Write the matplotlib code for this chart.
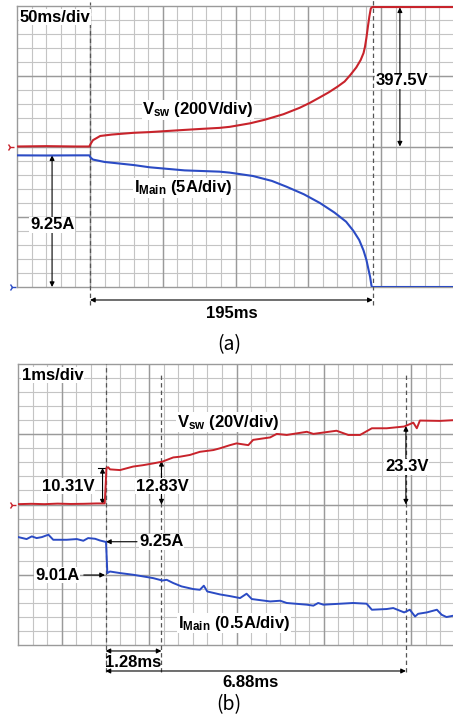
import matplotlib
matplotlib.use('Agg')
import matplotlib.pyplot as plt
import numpy as np

plt.rcParams['font.family'] = ['Liberation Sans', 'DejaVu Sans']
plt.rcParams['mathtext.fontset'] = 'custom'
plt.rcParams['mathtext.rm'] = 'Liberation Sans:bold'
plt.rcParams['mathtext.bf'] = 'Liberation Sans:bold'
plt.rcParams['mathtext.it'] = 'Liberation Sans:bold'

# ---- panel (a) data: 50ms/div, Vsw 200V/div, IMain 5A/div ----
vsw_a_t = [0, 20, 40, 49.5, 50.5, 52, 57, 65, 80, 91, 114, 126, 139, 146, 160, 170,
           183, 194, 201, 208, 214, 220, 225, 229, 233, 236, 238, 239, 240, 241,
           242, 243, 244, 260, 280, 299.5]
vsw_a_v = [0, 1, 0, 0, 8, 18, 30, 34, 39, 41, 47, 50, 53, 56, 66, 76,
           92, 110, 124, 140, 154, 170, 185, 204, 225, 246, 266, 284, 310, 341,
           370, 393, 397, 397, 397, 397]
imain_a_t = [0, 20, 40, 49.5, 50.5, 52, 60, 80, 91, 115, 139, 146, 162, 175, 185, 197,
             208, 218, 226, 231, 235, 238, 240, 241.5, 242.5, 243.5, 244, 260, 280, 299.5]
imain_a_i = [9.37, 9.36, 9.37, 9.37, 9.2, 9.07, 8.9, 8.68, 8.52, 8.3, 8.21, 8.14, 7.9, 7.55,
             7.14, 6.6, 5.98, 5.3, 4.65, 4.0, 3.35, 2.6, 1.92, 1.2, 0.73, 0.07, 0, 0, 0, 0]

# ---- panel (b) data: 1ms/div, Vsw 20V/div, IMain 0.5A/div ----
vsw_b_t = [0, 0.3, 0.6, 0.9, 1.2, 1.5, 1.8, 1.98, 2.02, 2.06, 2.10, 2.33, 2.48, 2.63, 2.86,
           3.09, 3.30, 3.55, 3.70, 3.93, 4.16, 4.47, 4.62, 4.85, 5.0, 5.27, 5.38, 5.77,
           5.92, 6.15, 6.61, 6.76, 7.29, 7.56, 7.83, 8.10, 8.44, 8.84, 9.05, 9.13, 9.2,
           9.66, 9.96]
vsw_b_v = [0.1, 0.2, 0.1, 0.25, 0.15, 0.2, 0.3, 0.3, 10.4, 10.6, 10.0, 9.8, 10.3, 10.8, 11.2,
           11.7, 12.2, 13.4, 13.6, 14.1, 15.0, 15.5, 16.0, 16.9, 17.4, 16.9, 18.4, 19.1,
           20.1, 19.8, 20.7, 20.1, 21.0, 19.8, 19.8, 21.7, 21.7, 22.2, 23.3, 21.7, 23.9,
           23.8, 24.0]
imain_b_t = [0, 0.19, 0.31, 0.42, 0.54, 0.69, 0.80, 1.11, 1.34, 1.49, 1.60, 1.76, 1.87,
             1.96, 2.01, 2.04, 2.10, 2.33, 2.63, 2.94, 3.09, 3.30, 3.40, 3.55, 3.74, 4.01,
             4.16, 4.25, 4.33, 4.62, 4.85, 5.08, 5.23, 5.35, 5.77, 6.0, 6.15, 6.61, 6.76,
             6.87, 6.99, 7.67, 7.98, 8.10, 8.44, 8.59, 8.84, 8.97, 9.09, 9.16, 9.36, 9.59,
             9.70, 9.81, 9.96]
imain_b_i = [9.278, 9.264, 9.283, 9.271, 9.278, 9.295, 9.259, 9.259, 9.264, 9.252, 9.271,
             9.266, 9.254, 9.247, 9.243, 9.022, 9.033, 9.022, 9.010, 8.994, 8.986, 8.969,
             8.974, 8.951, 8.927, 8.908, 8.903, 8.932, 8.891, 8.870, 8.858, 8.844, 8.875,
             8.837, 8.820, 8.825, 8.809, 8.797, 8.790, 8.809, 8.797, 8.809, 8.804, 8.761,
             8.766, 8.773, 8.742, 8.761, 8.713, 8.732, 8.742, 8.761, 8.725, 8.709, 8.718]

RED = '#c8232b'
BLUE = '#2b4bc4'
GRID_MINOR = '#c4c4c4'
GRID_MAJOR = '#9a9a9a'
FS = 12

W, H = 453, 727
fig = plt.figure(figsize=(W / 100, H / 100), dpi=100)


def make_axes(x0, y_top, y_bot, xmax, xmajor, xminor):
    ax = fig.add_axes([x0 / W, 1 - y_bot / H, (W - x0) / W, (y_bot - y_top) / H])
    ax.set_xlim(0, xmax)
    ax.set_ylim(0, 4)
    ax.set_xticks([])
    ax.set_yticks([])
    # scope graticule: light minor lines, darker major lines
    for x in xminor:
        ax.axvline(x, color=GRID_MINOR, lw=0.8, zorder=0)
    for y in np.arange(0.2, 4, 0.2):
        ax.axhline(y, color=GRID_MINOR, lw=0.8, zorder=0)
    for x in xmajor:
        ax.axvline(x, color=GRID_MAJOR, lw=1.0, zorder=1)
    for y in [1, 2, 3]:
        ax.axhline(y, color=GRID_MAJOR, lw=1.0, zorder=1)
    for side in ['left', 'top', 'bottom']:
        ax.spines[side].set_color(GRID_MAJOR)
        ax.spines[side].set_linewidth(1.0)
    ax.spines['right'].set_visible(False)
    return ax


def darrow(ax, p1, p2, style='<|-|>'):
    ax.annotate('', xy=p2, xytext=p1, annotation_clip=False,
                arrowprops=dict(arrowstyle=style, color='black', lw=0.8,
                                mutation_scale=7, shrinkA=0, shrinkB=0))


def label(ax, x, y, s, ha='center'):
    ax.text(x, y, s, ha=ha, va='center', fontsize=FS, fontweight='bold', clip_on=False,
            bbox=dict(facecolor='white', edgecolor='none', pad=0.5), zorder=5)


def vdash(ax, x, y0, y1):
    ax.plot([x, x], [y0, y1], color='#555555', lw=0.9, ls=(0, (3.5, 2.5)), clip_on=False, zorder=3)


# ================= panel (a) =================
ax1 = make_axes(17.3, 6, 287, 299.5, np.arange(50, 300, 50), np.arange(10, 300, 10))

ax1.plot(vsw_a_t, 2 + np.array(vsw_a_v) / 200, color=RED, lw=1.5, zorder=4)
ax1.plot(imain_a_t, np.array(imain_a_i) / 5, color=BLUE, lw=1.5, zorder=4)
ax1.plot(-5, 2, marker='4', color=RED, ms=6, clip_on=False)
ax1.plot(-3.6, 0, marker='4', color=BLUE, ms=6, clip_on=False)

vdash(ax1, 50, -0.25, 4.05)
vdash(ax1, 244.3, -0.25, 4.08)

label(ax1, 1.5, 3.84, '50ms/div', ha='left')
darrow(ax1, (23.9, 1.875), (23.9, 0))
label(ax1, 23.9, 0.883, '9.25A')
darrow(ax1, (263, 3.98), (263, 2.0))
label(ax1, 264.4, 2.937, '397.5V')
label(ax1, 124.2, 2.52, r'V$_{\rm sw}$ (200V/div)')
label(ax1, 113.9, 1.41, r'I$_{\rm Main}$ (5A/div)')
darrow(ax1, (50, -0.185), (244.3, -0.185))
ax1.text(147.5, -0.384, '195ms', ha='center', va='center', fontsize=FS, fontweight='bold')

fig.text(229 / W, 1 - 345 / H, '(a)', ha='center', va='center', fontsize=14,
         family=['Noto Sans CJK KR', 'DejaVu Sans'])

# ================= panel (b) =================
ax2 = make_axes(18.3, 364, 645, 9.959, [1, 3, 5, 7, 9], np.arange(1 / 3, 9.96, 1 / 3))

ax2.plot(vsw_b_t, 2 + np.array(vsw_b_v) / 20, color=RED, lw=1.4, zorder=4)
ax2.plot(imain_b_t, 1 + (np.array(imain_b_i) - 9.01) / 0.5, color=BLUE, lw=1.4, zorder=4)
ax2.plot(-0.144, 2, marker='4', color=RED, ms=6, clip_on=False)

vdash(ax2, 2.0, -0.38, 4.0)
vdash(ax2, 3.28, -0.38, 3.87)
vdash(ax2, 8.88, -0.38, 3.87)

label(ax2, 0.085, 3.843, '1ms/div', ha='left')
darrow(ax2, (1.93, 2.52), (1.93, 2.0))
ax2.plot([1.83, 2.02], [2.52, 2.52], color='black', lw=0.8)
label(ax2, 1.14, 2.263, '10.31V')
darrow(ax2, (3.28, 2.62), (3.28, 2.0))
label(ax2, 3.29, 2.263, '12.83V')
darrow(ax2, (8.88, 3.117), (8.88, 2.0))
label(ax2, 8.9, 2.538, '23.3V')

darrow(ax2, (2.72, 1.47), (2.01, 1.47), style='-|>')
label(ax2, 2.77, 1.47, '9.25A', ha='left')
darrow(ax2, (1.50, 0.996), (1.985, 0.996), style='-|>')
label(ax2, 0.887, 0.996, '9.01A')

label(ax2, 4.8, 3.174, r'V$_{\rm sw}$ (20V/div)')
label(ax2, 4.94, 0.313, r'I$_{\rm Main}$ (0.5A/div)')

darrow(ax2, (2.0, -0.085), (3.28, -0.085))
ax2.text(2.63, -0.256, '1.28ms', ha='center', va='center', fontsize=FS, fontweight='bold')
darrow(ax2, (2.0, -0.37), (8.88, -0.37))
ax2.text(5.31, -0.54, '6.88ms', ha='center', va='center', fontsize=FS, fontweight='bold')

fig.text(229 / W, 1 - 705 / H, '(b)', ha='center', va='center', fontsize=14,
         family=['Noto Sans CJK KR', 'DejaVu Sans'])

fig.savefig('out.png', dpi=100)
